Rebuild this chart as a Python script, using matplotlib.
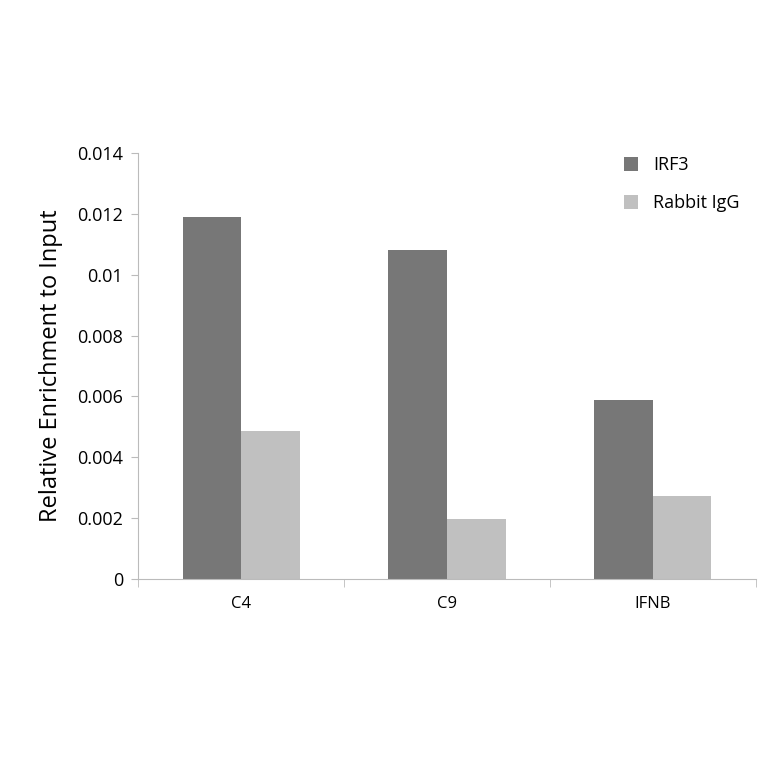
import matplotlib
matplotlib.use("Agg")
import matplotlib.pyplot as plt
import numpy as np

categories = ["C4", "C9", "IFNB"]
irf3 = [0.01188, 0.01082, 0.00588]
rabbit_igg = [0.00485, 0.00197, 0.00272]

plt.rcParams['font.family'] = ['Open Sans', 'DejaVu Sans']

fig = plt.figure(figsize=(7.64, 7.64), dpi=100)
ax = fig.add_axes([0.181, 0.242, 0.808, 0.558])

x = np.arange(len(categories))
w = 0.285
ax.bar(x - w / 2, irf3, w, color='#777777', label='IRF3')
ax.bar(x + w / 2, rabbit_igg, w, color='#c0c0c0', label='Rabbit IgG')

ax.set_xlim(-0.5, 2.5)
ax.set_ylim(0, 0.014)
ax.set_yticks(np.arange(0, 0.0141, 0.002))
ax.set_yticklabels(['0', '0.002', '0.004', '0.006', '0.008', '0.01', '0.012', '0.014'])
ax.set_xticks(x)
ax.set_xticklabels(categories)
ax.set_xticks(np.arange(-0.5, 2.6, 1), minor=True)
ax.tick_params(axis='x', which='major', length=0, pad=12, labelsize=12)
ax.tick_params(axis='x', which='minor', length=6, color='#bbbbbb', direction='out')
ax.tick_params(axis='y', length=5, color='#bbbbbb', labelsize=13, pad=6)

for s in ['top', 'right']:
    ax.spines[s].set_visible(False)
for s in ['left', 'bottom']:
    ax.spines[s].set_color('#bbbbbb')

ax.set_ylabel('Relative Enrichment to Input', fontsize=17, labelpad=10)
ax.legend(loc='upper right', frameon=False, fontsize=13, handlelength=0.8,
          handleheight=0.8, labelspacing=1.1, bbox_to_anchor=(1.0, 1.03))

fig.savefig('out.png', dpi=100)
